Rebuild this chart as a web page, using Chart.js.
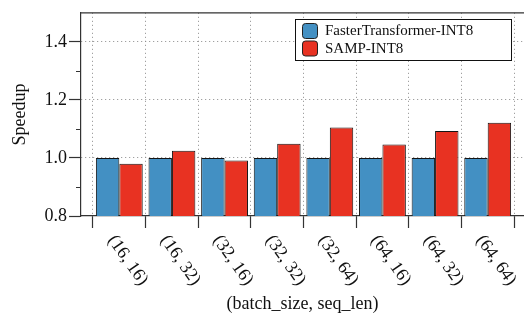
<!DOCTYPE html>
<html>
<head>
<meta charset="utf-8">
<script src="https://cdn.jsdelivr.net/npm/chart.js@4.4.0/dist/chart.umd.min.js"></script>
<style>
  html, body { margin: 0; padding: 0; background: #fff; }
  #wrap { width: 524px; height: 316px; }
</style>
</head>
<body>
<div id="wrap"><canvas id="chart" width="524" height="316"></canvas></div>
<script>
// Donnees du graphique
const categories = ['(16, 16)', '(16, 32)', '(32, 16)', '(32, 32)', '(32, 64)', '(64, 16)', '(64, 32)', '(64, 64)'];
const fasterTransformer = [1.0, 1.0, 1.0, 1.0, 1.0, 1.0, 1.0, 1.0];
const samp = [0.980, 1.025, 0.991, 1.049, 1.105, 1.046, 1.093, 1.121];
const seriesNames = ['FasterTransformer-INT8', 'SAMP-INT8'];
const majorTicks = [0.8, 1.0, 1.2, 1.4];
const minorTicks = [0.9, 1.1, 1.3];

const FONT = 'Liberation Serif, Times New Roman, serif';
const AXIS = '#333333';
const GRID = '#8a8a8a';

// Ticks mineurs, bord du haut, etiquettes inclinees et legende
const decorPlugin = {
    id: 'decor',
    afterDraw(chart) {
        const ctx = chart.ctx;
        const area = chart.chartArea;
        const x = chart.scales.x;
        const y = chart.scales.y;
        ctx.save();
        ctx.strokeStyle = AXIS;
        ctx.lineWidth = 1.2;
        ctx.setLineDash([]);
        ctx.beginPath();
        ctx.moveTo(area.left, area.top);
        ctx.lineTo(area.right, area.top);
        minorTicks.forEach(v => {
            const py = Math.round(y.getPixelForValue(v)) + 0.5;
            ctx.moveTo(area.left - 5, py);
            ctx.lineTo(area.left, py);
        });
        ctx.stroke();

        // etiquettes de categories
        ctx.fillStyle = '#111';
        ctx.font = '18px ' + FONT;
        ctx.textAlign = 'left';
        ctx.textBaseline = 'middle';
        categories.forEach((c, i) => {
            const px = x.getPixelForValue(i);
            ctx.save();
            ctx.translate(px - 8, 237);
            ctx.rotate(55 * Math.PI / 180);
            ctx.fillText(c, 0, 0);
            ctx.restore();
        });

        // legende
        const lx = 295, ly = 19, lw = 216, lh = 41;
        ctx.fillStyle = '#fff';
        ctx.fillRect(lx, ly, lw, lh);
        ctx.strokeStyle = '#111';
        ctx.lineWidth = 1;
        ctx.strokeRect(lx + 0.5, ly + 0.5, lw, lh);
        ctx.font = '15px ' + FONT;
        chart.data.datasets.forEach((ds, i) => {
            const ry = ly + 4 + i * 17.5;
            ctx.beginPath();
            ctx.roundRect(lx + 7.5, ry + 0.5, 15, 15, 3);
            ctx.fillStyle = ds.backgroundColor;
            ctx.fill();
            ctx.strokeStyle = '#222';
            ctx.stroke();
            ctx.fillStyle = '#111';
            ctx.fillText(ds.label, lx + 30, ry + 8.5);
        });
        ctx.restore();
    }
};

new Chart(document.getElementById('chart'), {
    type: 'bar',
    data: {
        datasets: [
            {
                label: seriesNames[0],
                data: fasterTransformer.map((v, i) => ({ x: i, y: v })),
                backgroundColor: '#4390c3',
                borderColor: '#151515',
                borderWidth: 1
            },
            {
                label: seriesNames[1],
                data: samp.map((v, i) => ({ x: i, y: v })),
                backgroundColor: '#e83222',
                borderColor: '#151515',
                borderWidth: 1
            }
        ]
    },
    options: {
        responsive: false,
        animation: false,
        layout: { padding: { top: 10, right: 0, bottom: 0, left: 0 } },
        datasets: { bar: { categoryPercentage: 0.89, barPercentage: 1.0 } },
        plugins: { legend: { display: false }, tooltip: { enabled: false } },
        scales: {
            x: {
                type: 'linear',
                min: -0.728,
                max: 7.69,
                offset: false,
                afterBuildTicks: scale => {
                    scale.ticks = categories.map((c, i) => ({ value: i }));
                },
                afterFit: scale => { scale.height = 100; },
                ticks: { display: false },
                grid: {
                    offset: true,
                    color: GRID,
                    lineWidth: 1,
                    tickColor: AXIS,
                    tickWidth: 1.2,
                    tickLength: 12
                },
                border: { color: AXIS, width: 1.2, dash: [1, 3] },
                title: {
                    display: true,
                    text: '(batch_size, seq_len)',
                    color: '#111',
                    font: { family: FONT, size: 18 },
                    padding: { top: 0, bottom: 1 }
                }
            },
            y: {
                min: 0.8,
                max: 1.5,
                afterFit: scale => { scale.width = 81; },
                ticks: {
                    stepSize: 0.1,
                    padding: 2,
                    color: '#111',
                    font: { family: FONT, size: 18 },
                    callback: v => majorTicks.some(m => Math.abs(m - v) < 1e-6) ? v.toFixed(1) : ''
                },
                grid: {
                    color: c => [1.0, 1.2, 1.4].some(m => Math.abs(m - c.tick.value) < 1e-6) ? GRID : 'rgba(0,0,0,0)',
                    lineWidth: 1,
                    tickColor: c => majorTicks.some(m => Math.abs(m - c.tick.value) < 1e-6) ? AXIS : 'rgba(0,0,0,0)',
                    tickWidth: 1.2,
                    tickLength: 12
                },
                border: { color: AXIS, width: 1.2, dash: [1, 3] },
                title: {
                    display: true,
                    text: 'Speedup',
                    color: '#111',
                    font: { family: FONT, size: 18 },
                    padding: { top: 9, bottom: 0 }
                }
            }
        }
    },
    plugins: [decorPlugin]
});
</script>
</body>
</html>
